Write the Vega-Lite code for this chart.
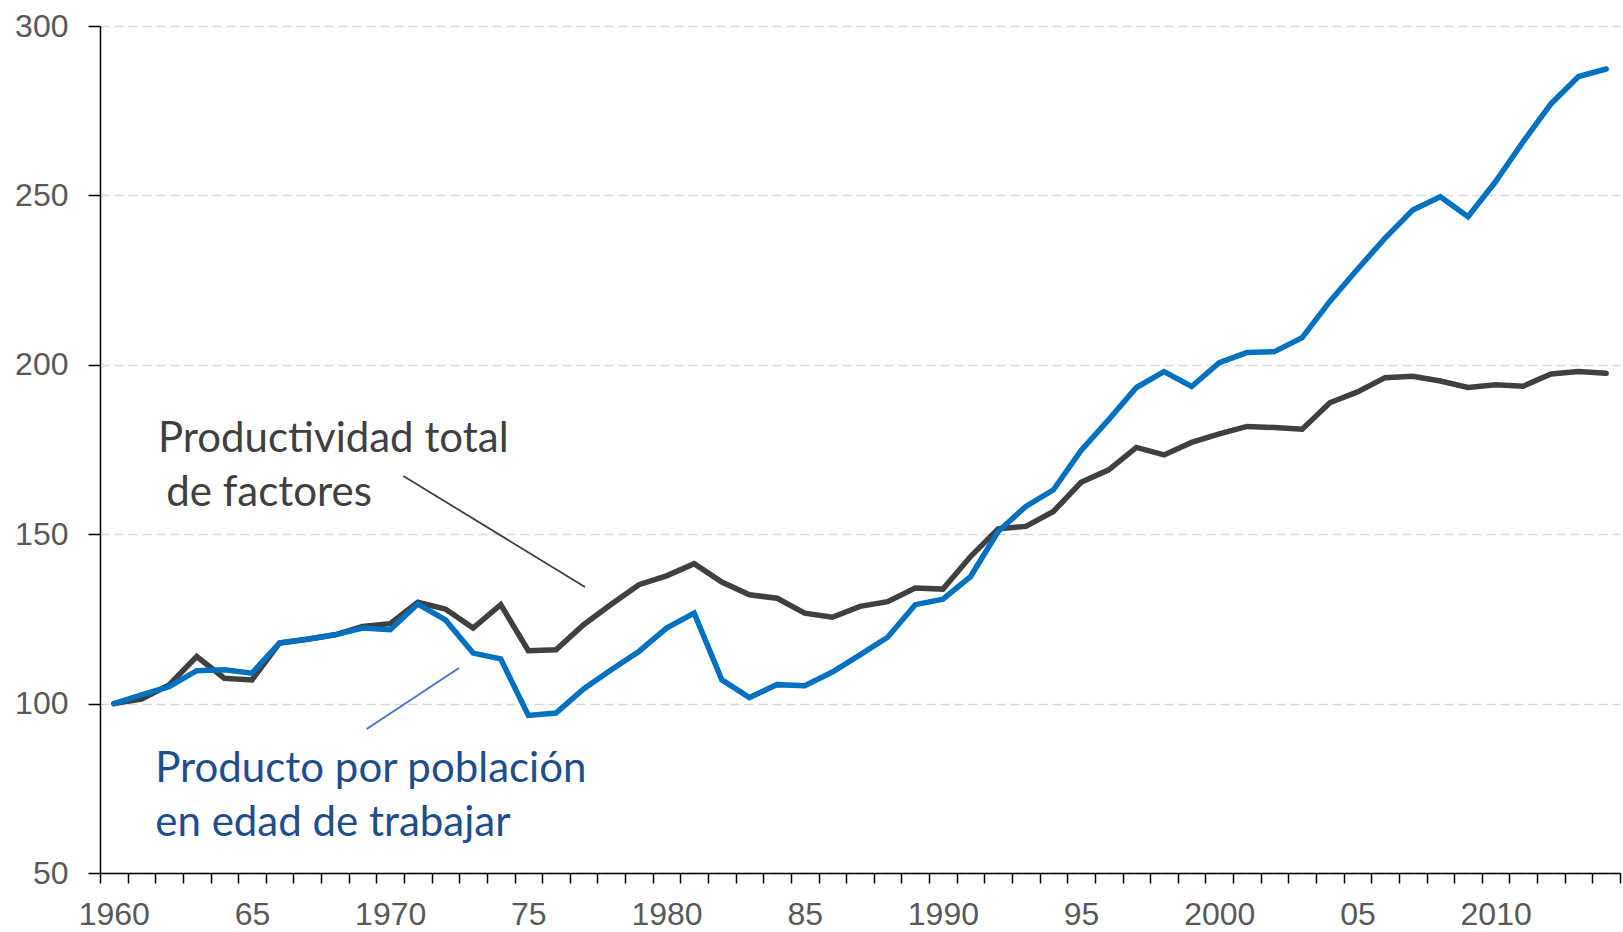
{
  "$schema": "https://vega.github.io/schema/vega-lite/v6.json",
  "width": 1520,
  "height": 847,
  "autosize": {"type": "none"},
  "padding": {"left": 100, "top": 26, "right": 3, "bottom": 59},
  "background": "#ffffff",
  "config": {"view": {"stroke": null}},
  "datasets": {
    "series": [
      {"year": 1960, "ptf": 100.0, "prod": 100.0},
      {"year": 1961, "ptf": 101.3, "prod": 102.6},
      {"year": 1962, "ptf": 105.5, "prod": 105.0},
      {"year": 1963, "ptf": 113.9, "prod": 109.7},
      {"year": 1964, "ptf": 107.5, "prod": 110.0},
      {"year": 1965, "ptf": 107.0, "prod": 109.0},
      {"year": 1966, "ptf": 117.9, "prod": 117.9},
      {"year": 1967, "ptf": 119.0, "prod": 119.0},
      {"year": 1968, "ptf": 120.3, "prod": 120.3},
      {"year": 1969, "ptf": 122.8, "prod": 122.3},
      {"year": 1970, "ptf": 123.6, "prod": 121.8},
      {"year": 1971, "ptf": 129.9, "prod": 129.4},
      {"year": 1972, "ptf": 127.9, "prod": 124.7},
      {"year": 1973, "ptf": 122.3, "prod": 114.9},
      {"year": 1974, "ptf": 129.2, "prod": 113.2},
      {"year": 1975, "ptf": 115.6, "prod": 96.5},
      {"year": 1976, "ptf": 115.9, "prod": 97.2},
      {"year": 1977, "ptf": 123.3, "prod": 104.3},
      {"year": 1978, "ptf": 129.3, "prod": 110.0},
      {"year": 1979, "ptf": 135.1, "prod": 115.4},
      {"year": 1980, "ptf": 137.7, "prod": 122.3},
      {"year": 1981, "ptf": 141.3, "prod": 126.7},
      {"year": 1982, "ptf": 135.9, "prod": 107.0},
      {"year": 1983, "ptf": 132.1, "prod": 101.8},
      {"year": 1984, "ptf": 131.1, "prod": 105.6},
      {"year": 1985, "ptf": 126.7, "prod": 105.3},
      {"year": 1986, "ptf": 125.5, "prod": 109.3},
      {"year": 1987, "ptf": 128.7, "prod": 114.4},
      {"year": 1988, "ptf": 130.1, "prod": 119.6},
      {"year": 1989, "ptf": 134.1, "prod": 129.2},
      {"year": 1990, "ptf": 133.8, "prod": 130.8},
      {"year": 1991, "ptf": 143.4, "prod": 137.5},
      {"year": 1992, "ptf": 151.6, "prod": 150.8},
      {"year": 1993, "ptf": 152.3, "prod": 158.2},
      {"year": 1994, "ptf": 156.7, "prod": 163.1},
      {"year": 1995, "ptf": 165.3, "prod": 174.7},
      {"year": 1996, "ptf": 169.0, "prod": 183.8},
      {"year": 1997, "ptf": 175.6, "prod": 193.3},
      {"year": 1998, "ptf": 173.4, "prod": 198.0},
      {"year": 1999, "ptf": 177.1, "prod": 193.6},
      {"year": 2000, "ptf": 179.6, "prod": 200.6},
      {"year": 2001, "ptf": 181.8, "prod": 203.6},
      {"year": 2002, "ptf": 181.5, "prod": 203.9},
      {"year": 2003, "ptf": 181.0, "prod": 208.0},
      {"year": 2004, "ptf": 188.8, "prod": 218.7},
      {"year": 2005, "ptf": 192.0, "prod": 228.2},
      {"year": 2006, "ptf": 196.2, "prod": 237.4},
      {"year": 2007, "ptf": 196.6, "prod": 245.7},
      {"year": 2008, "ptf": 195.2, "prod": 249.6},
      {"year": 2009, "ptf": 193.3, "prod": 243.7},
      {"year": 2010, "ptf": 194.1, "prod": 254.1},
      {"year": 2011, "ptf": 193.7, "prod": 265.9},
      {"year": 2012, "ptf": 197.3, "prod": 277.0},
      {"year": 2013, "ptf": 198.0, "prod": 285.1},
      {"year": 2014, "ptf": 197.5, "prod": 287.3}
    ],
    "leaders": [
      {"who": "ptf", "x1": 1970.475, "y1": 167.2, "x2": 1977.05, "y2": 134.4},
      {"who": "prod", "x1": 1969.15, "y1": 92.5, "x2": 1972.49, "y2": 110.5}
    ],
    "labels": [
      {"who": "ptf", "text": "Productividad total", "x": 1961.6, "y": 174.4},
      {"who": "ptf", "text": "de factores", "x": 1961.9, "y": 158.4},
      {"who": "prod", "text": "Producto por población", "x": 1961.5, "y": 77.0},
      {"who": "prod", "text": "en edad de trabajar", "x": 1961.5, "y": 60.8}
    ]
  },
  "layer": [
    {
      "data": {"name": "series"},
      "mark": {"type": "line", "color": "#404040", "strokeWidth": 5.5, "strokeCap": "round"},
      "encoding": {
        "x": {
          "field": "year", "type": "quantitative",
          "scale": {"domain": [1959.5, 2014.5], "nice": false, "zero": false},
          "axis": {
            "title": null,
            "values": [1959.5,1960.5,1961.5,1962.5,1963.5,1964.5,1965.5,1966.5,1967.5,1968.5,1969.5,1970.5,1971.5,1972.5,1973.5,1974.5,1975.5,1976.5,1977.5,1978.5,1979.5,1980.5,1981.5,1982.5,1983.5,1984.5,1985.5,1986.5,1987.5,1988.5,1989.5,1990.5,1991.5,1992.5,1993.5,1994.5,1995.5,1996.5,1997.5,1998.5,1999.5,2000.5,2001.5,2002.5,2003.5,2004.5,2005.5,2006.5,2007.5,2008.5,2009.5,2010.5,2011.5,2012.5,2013.5,2014.5],
            "tickCount": 200,
            "labelExpr": "(datum.value + 0.5) > 2012 || (datum.value + 0.5) % 5 != 0 ? '' : ((datum.value + 0.5) % 10 == 0 ? ('' + (datum.value + 0.5)) : slice('' + (datum.value + 0.5), 2))",
            "labelOffset": 13.818,
            "labelPadding": 16,
            "labelOverlap": false,
            "labelFlush": false,
            "labelBound": false,
            "labelFont": "Liberation Sans",
            "labelFontSize": 32,
            "labelColor": "#595959",
            "grid": false,
            "domainColor": "#000000",
            "domainWidth": 1.5,
            "tickColor": "#000000",
            "tickWidth": 1.5,
            "tickSize": 10
          }
        },
        "y": {
          "field": "ptf", "type": "quantitative",
          "scale": {"domain": [50, 300], "nice": false, "zero": false},
          "axis": {
            "title": null,
            "values": [50, 100, 150, 200, 250, 300],
            "labelFont": "Liberation Sans",
            "labelFontSize": 32,
            "labelColor": "#595959",
            "labelPadding": 20,
            "grid": true,
            "gridColor": "#d9d9d9",
            "gridDash": [9, 5],
            "gridWidth": 1.5,
            "domainColor": "#000000",
            "domainWidth": 1.5,
            "tickColor": "#000000",
            "tickWidth": 1.5,
            "tickSize": 12
          }
        }
      }
    },
    {
      "data": {"name": "series"},
      "mark": {"type": "line", "color": "#0070C0", "strokeWidth": 5.5, "strokeCap": "round"},
      "encoding": {
        "x": {"field": "year", "type": "quantitative"},
        "y": {"field": "prod", "type": "quantitative"}
      }
    },
    {
      "data": {"name": "leaders"},
      "transform": [{"filter": "datum.who == 'ptf'"}],
      "mark": {"type": "rule", "color": "#404040", "strokeWidth": 1.8},
      "encoding": {
        "x": {"field": "x1", "type": "quantitative"},
        "y": {"field": "y1", "type": "quantitative"},
        "x2": {"field": "x2"},
        "y2": {"field": "y2"}
      }
    },
    {
      "data": {"name": "leaders"},
      "transform": [{"filter": "datum.who == 'prod'"}],
      "mark": {"type": "rule", "color": "#4472C4", "strokeWidth": 1.8},
      "encoding": {
        "x": {"field": "x1", "type": "quantitative"},
        "y": {"field": "y1", "type": "quantitative"},
        "x2": {"field": "x2"},
        "y2": {"field": "y2"}
      }
    },
    {
      "data": {"name": "labels"},
      "transform": [{"filter": "datum.who == 'ptf'"}],
      "mark": {"type": "text", "align": "left", "baseline": "alphabetic", "font": "Lato", "fontSize": 42, "color": "#404040"},
      "encoding": {
        "x": {"field": "x", "type": "quantitative"},
        "y": {"field": "y", "type": "quantitative"},
        "text": {"field": "text"}
      }
    },
    {
      "data": {"name": "labels"},
      "transform": [{"filter": "datum.who == 'prod'"}],
      "mark": {"type": "text", "align": "left", "baseline": "alphabetic", "font": "Lato", "fontSize": 42, "color": "#1F4E8C"},
      "encoding": {
        "x": {"field": "x", "type": "quantitative"},
        "y": {"field": "y", "type": "quantitative"},
        "text": {"field": "text"}
      }
    }
  ]
}
